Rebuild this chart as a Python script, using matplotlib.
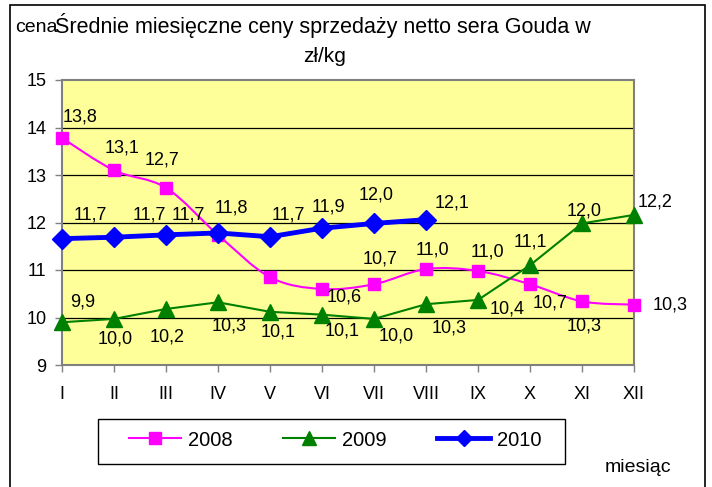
import matplotlib
matplotlib.use("Agg")
import matplotlib.pyplot as plt
from matplotlib.path import Path
from matplotlib.patches import PathPatch, Rectangle
from matplotlib.lines import Line2D
import numpy as np

plt.rcParams['font.family'] = ['Liberation Sans', 'DejaVu Sans']

months = ["I", "II", "III", "IV", "V", "VI", "VII", "VIII", "IX", "X", "XI", "XII"]
v2008 = [13.78, 13.1, 12.73, 11.74, 10.85, 10.6, 10.7, 11.02, 10.98, 10.7, 10.34, 10.27]
v2009 = [9.9, 9.97, 10.18, 10.32, 10.12, 10.06, 9.97, 10.28, 10.37, 11.1, 11.98, 12.16]
v2010 = [11.66, 11.69, 11.74, 11.78, 11.7, 11.88, 11.98, 12.06]

# label offsets in pixels (dx, dy up); None = label hidden
off2008 = [(18, 21), (8, 22), (-4, 28), None, None, (22, -8), (6, 25), (6, 19), (9, 19), (20, -19), (2, -25), (36, 0)]
off2009 = [(21, 20), (1, -20), (1, -28), (11, -24), (8, -20), (20, -16), (22, -17), (23, -24), (29, -9), (0, 23), (2, 12), (21, 13)]
off2010 = [(28, 24), (35, 22), (22, 20), (13, 25), (18, 22), (6, 21), (2, 28), (26, 17)]

C08, C09, C10 = "#FF00FF", "#008000", "#0000FF"

W, H = 712, 487
fig = plt.figure(figsize=(W / 100, H / 100), dpi=100)
# outer frame
fig.patches.append(Rectangle((10 / W, -0.01), 695 / W, 1 - 5 / H + 0.01, transform=fig.transFigure,
                             fill=False, edgecolor="black", linewidth=1.2))

ax = fig.add_axes([62 / W, 1 - 365 / H, 572 / W, 285 / H])
ax.set_facecolor("#FFFF99")
ax.set_xlim(0, 11)
ax.set_ylim(9, 15)
for s in ax.spines.values():
    s.set_color("#808080")
    s.set_linewidth(1.5)
ax.set_yticks(range(9, 16))
ax.set_xticks(range(12))
ax.set_xticklabels(months)
ax.tick_params(axis="both", direction="out", length=5, color="#808080", labelsize=13, width=1)
ax.tick_params(axis="x", pad=10)
ax.tick_params(axis="y", pad=6)
for yv in range(10, 15):
    ax.axhline(yv, color="black", linewidth=0.9, zorder=1)

x8 = np.arange(len(v2008))
x9 = np.arange(len(v2009))
x10 = np.arange(len(v2010))

# smoothed 2008 line (Catmull-Rom -> cubic Bezier)
pts = list(zip(x8, v2008))
verts = [pts[0]]
codes = [Path.MOVETO]
for i in range(len(pts) - 1):
    p0 = pts[i - 1] if i > 0 else pts[i]
    p1 = pts[i]
    p2 = pts[i + 1]
    p3 = pts[i + 2] if i + 2 < len(pts) else pts[i + 1]
    c1 = (p1[0] + (p2[0] - p0[0]) / 6, p1[1] + (p2[1] - p0[1]) / 6)
    c2 = (p2[0] - (p3[0] - p1[0]) / 6, p2[1] - (p3[1] - p1[1]) / 6)
    verts += [c1, c2, p2]
    codes += [Path.CURVE4] * 3
ax.add_patch(PathPatch(Path(verts, codes), fill=False, edgecolor=C08, linewidth=1.5, zorder=3, clip_on=False))
ax.plot(x8, v2008, linestyle="none", marker="s", markersize=8.5, color=C08, zorder=4, clip_on=False)

ax.plot(x9, v2009, color=C09, linewidth=1.5, marker="^", markersize=11, zorder=4, clip_on=False)
ax.plot(x10, v2010, color=C10, linewidth=3.5, marker="D", markersize=10, zorder=5, clip_on=False)


def fmt(v):
    return f"{v:.1f}".replace(".", ",")


for xs, vs, offs in ((x8, v2008, off2008), (x9, v2009, off2009), (x10, v2010, off2010)):
    for xv, yv, o in zip(xs, vs, offs):
        if o is None:
            continue
        ax.annotate(fmt(yv), (xv, yv), xytext=(o[0] * 0.72, o[1] * 0.72), textcoords="offset points",
                    ha="center", va="center", fontsize=13, zorder=6, annotation_clip=False)

fig.text(323 / W, 1 - 25 / H, "Średnie miesięczne ceny sprzedaży netto sera Gouda w", ha="center", va="center", fontsize=15.5)
fig.text(325 / W, 1 - 57 / H, "zł/kg", ha="center", va="center", fontsize=15)
fig.text(15 / W, 1 - 27 / H, "cena", ha="left", va="center", fontsize=14)
fig.text(638 / W, 1 - 468 / H, "miesiąc", ha="center", va="center", fontsize=14)

# legend box
fig.patches.append(Rectangle((98 / W, 1 - 464 / H), 467 / W, 45 / H, transform=fig.transFigure,
                             fill=False, edgecolor="black", linewidth=1.0))
handles = [
    Line2D([], [], color=C08, linewidth=1.5, marker="s", markersize=8.5),
    Line2D([], [], color=C09, linewidth=1.5, marker="^", markersize=10),
    Line2D([], [], color=C10, linewidth=3.5, marker="D", markersize=8),
]
leg = fig.legend(handles, ["2008", "2009", "2010"], loc="center", bbox_to_anchor=(335 / W, 1 - 440 / H),
                 ncol=3, fontsize=14.5, frameon=False, handlelength=2.6, handletextpad=0.35,
                 columnspacing=2.5, borderpad=0.0, borderaxespad=0)

fig.savefig("out.png", dpi=100)
